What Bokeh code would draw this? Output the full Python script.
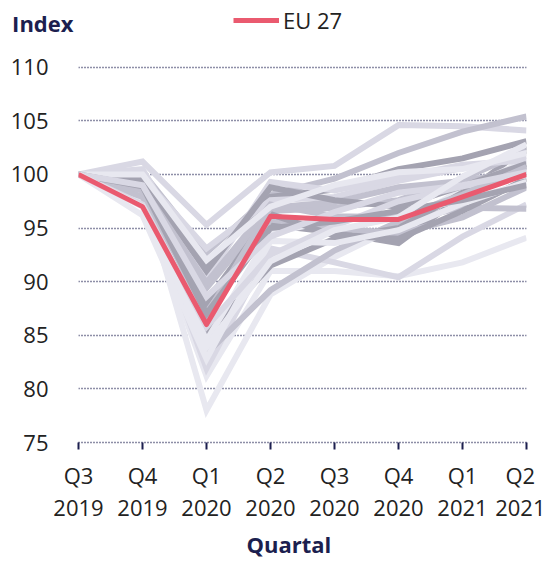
from bokeh.plotting import figure
from bokeh.models import Range1d, FixedTicker, Legend, LegendItem, Title
from bokeh.layouts import column
from bokeh.embed import file_html
from bokeh.resources import INLINE

# ---------------- data ----------------
quarters = ["Q3\n2019", "Q4\n2019", "Q1\n2020", "Q2\n2020", "Q3\n2020", "Q4\n2020", "Q1\n2021", "Q2\n2021"]
y_ticks = [75, 80, 85, 90, 95, 100, 105, 110]

eu27 = [100, 97.0, 86.0, 96.1, 95.8, 95.8, 97.9, 100.0]

c01 = [100, 101.2, 95.3, 100.2, 100.8, 104.6, 104.5, 104.1]
c02 = [100, 100.2, 92.7, 98.1, 99.6, 102.0, 104.0, 105.4]
c03 = [100, 99.6, 91.5, 97.9, 98.6, 100.5, 101.5, 103.1]
c04 = [100, 99.3, 90.6, 95.3, 94.6, 93.6, 98.0, 102.6]
c05 = [100, 98.6, 78.0, 88.8, 92.3, 95.2, 98.6, 101.3]
c06 = [100, 97.6, 81.2, 91.0, 91.0, 90.5, 91.8, 94.1]
c07 = [100, 98.2, 81.9, 93.1, 91.8, 90.4, 94.2, 97.2]
c08 = [100, 99.0, 83.3, 89.2, 92.9, 95.6, 96.9, 96.8]
c09 = [100, 98.9, 85.1, 91.5, 94.0, 95.0, 98.3, 100.8]
c10 = [100, 99.8, 93.1, 97.6, 97.9, 99.4, 100.6, 101.7]
c11 = [100, 99.4, 89.4, 96.6, 96.9, 97.6, 99.6, 102.2]
c12 = [100, 98.4, 84.5, 94.5, 95.8, 96.4, 97.6, 99.1]
c13 = [100, 97.9, 87.6, 95.8, 95.0, 94.5, 96.0, 98.8]
c14 = [100, 99.1, 88.1, 96.3, 94.3, 94.0, 96.6, 99.6]
c15 = [100, 100.5, 90.3, 99.3, 98.5, 99.7, 100.9, 101.3]
c16 = [100, 96.2, 82.8, 93.8, 93.6, 94.8, 97.3, 99.3]
c17 = [100, 98.5, 86.9, 96.9, 97.4, 98.8, 99.4, 100.4]
c18 = [100, 99.5, 91.0, 98.8, 97.6, 97.0, 98.9, 101.0]
c19 = [100, 97.2, 85.8, 92.5, 95.2, 97.5, 98.9, 99.9]
c20 = [100, 98.8, 89.9, 97.2, 96.1, 96.0, 98.1, 100.7]
c21 = [100, 100.0, 92.0, 97.0, 99.0, 100.2, 100.5, 102.0]
c22 = [100, 98.9, 87.0, 95.0, 95.6, 96.6, 97.6, 99.0]
c23 = [100, 99.0, 88.6, 94.2, 96.5, 98.3, 99.0, 100.2]
c24 = [100, 97.0, 83.9, 91.9, 94.8, 96.0, 99.8, 102.8]

countries = [c01, c02, c03, c04, c05, c06, c07, c08, c09, c10, c11, c12,
             c13, c14, c15, c16, c17, c18, c19, c20, c21, c22, c23, c24]

# ---------------- styles ----------------
NAVY = "#1c1f4f"
RED = "#ea5a6f"
LIGHT = "#d9d8e4"
LIGHTER = "#e8e8f0"
MID = "#c2c1cf"
DARK = "#a4a3b1"
shades = [LIGHT, MID, DARK, DARK, LIGHTER, LIGHTER, LIGHT, MID, DARK, LIGHT, MID, LIGHTER,
          MID, DARK, LIGHT, LIGHTER, MID, DARK, LIGHT, MID, LIGHTER, DARK, LIGHT, LIGHTER]
FONT = "Open Sans"
W = 545
LEFT, RIGHT = 78, 19

xs = list(range(len(quarters)))

# ---------------- header: y-title ("Index") + legend ----------------
hdr = figure(width=W, height=44, x_range=Range1d(0, 7), y_range=Range1d(0, 44),
             output_backend="svg", toolbar_location=None,
             x_axis_location=None, y_axis_location="left",
             min_border_left=LEFT, min_border_right=RIGHT, min_border_top=0, min_border_bottom=0)
hdr.outline_line_color = None
hdr.xgrid.visible = False
hdr.ygrid.visible = False
hdr.yaxis.ticker = FixedTicker(ticks=[22])
hdr.yaxis.major_label_overrides = {22: "Index"}
hdr.yaxis.axis_line_color = None
hdr.yaxis.major_tick_line_color = None
hdr.yaxis.minor_tick_line_color = None
hdr.yaxis.major_tick_out = 0
hdr.yaxis.major_label_standoff = 5
hdr.yaxis.major_label_text_font = FONT
hdr.yaxis.major_label_text_font_size = "22px"
hdr.yaxis.major_label_text_font_style = "bold"
hdr.yaxis.major_label_text_color = NAVY
# EU 27 series in the header's scale lies outside its range: only its legend swatch shows
leg_r = hdr.line(xs, eu27, line_color=RED, line_width=5)
legend = Legend(items=[LegendItem(label="EU 27", renderers=[leg_r])],
                location=(155, 9), orientation="horizontal",
                padding=0, margin=0, spacing=0, glyph_width=46, glyph_height=26,
                label_standoff=4, border_line_color=None, background_fill_alpha=0,
                label_text_font=FONT, label_text_font_size="22px", label_text_color="#222222")
hdr.add_layout(legend)

# ---------------- main chart ----------------
p = figure(width=W, height=516, x_range=Range1d(0, 7), y_range=Range1d(75, 111),
           output_backend="svg", toolbar_location=None,
           min_border_left=LEFT, min_border_right=RIGHT, min_border_top=12, min_border_bottom=110)
p.outline_line_color = None

p.xgrid.visible = False
p.ygrid.ticker = FixedTicker(ticks=y_ticks)
p.ygrid.grid_line_color = NAVY
p.ygrid.grid_line_dash = "1 2"
p.ygrid.grid_line_width = 1.5

p.yaxis.ticker = FixedTicker(ticks=y_ticks)
p.yaxis.axis_line_color = None
p.yaxis.major_tick_line_color = None
p.yaxis.minor_tick_line_color = None
p.yaxis.major_tick_out = 0
p.yaxis.major_label_standoff = 30
p.yaxis.major_label_text_font = FONT
p.yaxis.major_label_text_font_size = "22px"
p.yaxis.major_label_text_color = "#222222"

p.xaxis.ticker = FixedTicker(ticks=xs)
p.xaxis.major_label_overrides = {i: q for i, q in zip(xs, quarters)}
p.xaxis.axis_line_color = NAVY
p.xaxis.axis_line_dash = "1 2"
p.xaxis.axis_line_width = 1.5
p.xaxis.major_tick_line_color = NAVY
p.xaxis.major_tick_line_width = 2
p.xaxis.major_tick_out = 7
p.xaxis.major_tick_in = 0
p.xaxis.minor_tick_line_color = None
p.xaxis.major_label_standoff = 10
p.xaxis.major_label_text_font = FONT
p.xaxis.major_label_text_font_size = "22px"
p.xaxis.major_label_text_color = "#222222"
p.xaxis.major_label_text_line_height = 1.07

p.add_layout(Title(text="Quartal", align="left", offset=168, standoff=4,
                   text_font=FONT, text_font_size="22px", text_font_style="bold",
                   text_color=NAVY), "below")

for vals, col in zip(countries, shades):
    p.line(xs, vals, line_color=col, line_width=6, line_join="miter")

p.line(xs, eu27, line_color=RED, line_width=5, line_join="round")

open("out.html", "w").write(file_html(column(hdr, p, spacing=0), INLINE))
